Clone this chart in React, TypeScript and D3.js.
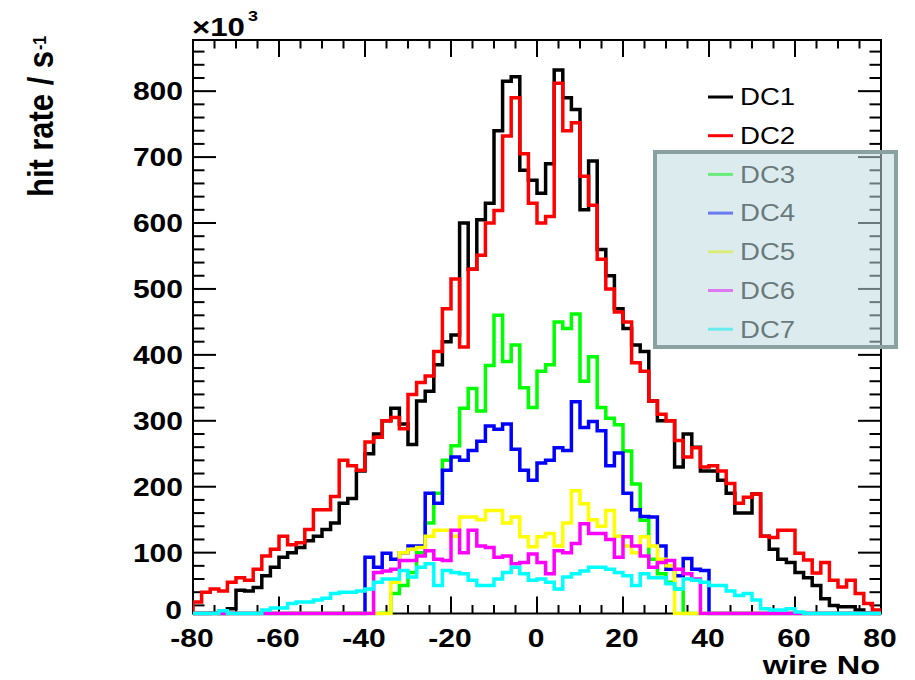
import React from 'react';
import * as d3 from 'd3';

// ---- data (hit rate in units of 10^3 /s, bins of 2 wires from -80 to 80) ----
const BIN_START = -80;
const BIN_WIDTH = 2;

const dc1 = [0,0,8,0,15,43,42,47,65,78, 93,100,108,118,125,135,145,175,182,224,
  250,280,300,319,295,264,330,345,385,420, 430,600,530,605,630,740,815,822,680,665,
  645,690,832,790,772,620,694,560,520,470, 440,415,405,330,300,300,230,280,260,224,
  224,210,190,160,160,189,125,105,90,85, 70,62,50,30,20,18,18,13,8,5];

const dc2 = [25,40,45,42,55,62,58,75,95,105, 125,112,115,135,165,165,185,240,232,225,
  268,275,300,305,288,340,358,368,405,470, 515,412,530,551,600,619,732,790,705,630,
  600,610,812,740,752,671,627,545,500,465, 450,388,375,330,310,300,270,245,259,230,
  232,224,205,175,184,189,125,123,134,134, 99,89,69,85,58,48,58,38,23,13];

const dc3 = [0,0,0,0,0,0,0,0,0,0, 0,0,0,0,0,0,0,0,0,0,
  0,0,8,38,50,70,100,145,190,240, 262,319,349,315,384,460,390,415,350,320,
  375,385,450,440,462,360,397,320,304,294, 254,204,149,90,68,55,45,0,0,0,
  0,0,0,0,0,0,0,0,0,0, 0,0,0,0,0,0,0,0,0,0];

const dc4 = [0,0,0,0,0,0,0,0,0,0, 0,0,0,0,0,0,0,0,0,0,
  93,78,99,90,100,110,110,190,175,225, 245,240,255,269,292,287,295,257,225,210,
  236,240,259,255,329,290,299,285,232,251, 190,165,155,154,110,75,65,91,75,73,
  0,0,0,0,0,0,0,0,0,0, 0,0,0,0,0,0,0,0,0,0];

const dc5 = [0,0,0,0,0,0,0,0,0,0, 0,0,0,0,0,0,0,0,0,0,
  0,0,0,55,100,105,108,125,134,134, 125,154,154,150,164,164,145,154,124,109,
  124,129,110,145,194,174,150,140,164,125, 110,100,124,110,90,80,0,0,0,0,
  0,0,0,0,0,0,0,0,0,0, 0,0,0,0,0,0,0,0,0,0];

const dc6 = [0,0,0,0,0,0,0,0,0,0, 0,0,0,0,0,0,0,0,0,0,
  0,70,72,75,88,88,95,103,90,88, 134,100,134,110,108,93,95,83,85,98,
  85,68,103,100,114,144,129,129,120,93, 124,110,95,78,85,88,75,68,60,0,
  0,0,0,0,0,0,0,0,0,0, 0,0,0,0,0,0,0,0,0,0];

const dc7 = [0,0,5,12,5,0,0,2,13,16, 16,23,25,25,28,31,38,40,40,42,
  45,55,60,60,73,63,78,83,50,73, 70,68,58,50,50,60,70,78,68,58,
  60,55,45,63,68,72,78,78,75,70, 65,50,68,62,62,53,45,60,58,55,
  50,50,42,35,38,28,15,13,13,15, 10,6,5,5,5,5,5,5,5,5];

const SERIES_NAMES = ['DC1', 'DC2', 'DC3', 'DC4', 'DC5', 'DC6', 'DC7'];
const SERIES_COLORS = ['#000000', '#ff0000', '#00ff00', '#0000ff', '#ffff00', '#ff00ff', '#00ffff'];
const SERIES_VALUES = [dc1, dc2, dc3, dc4, dc5, dc6, dc7];

const X_TICK_LABELS = [-80, -60, -40, -20, 0, 20, 40, 60, 80];
const Y_TICK_LABELS = [0, 100, 200, 300, 400, 500, 600, 700, 800];

const FONT = '"Liberation Sans", Arial, Helvetica, sans-serif';

function SText(props: {x: number; y: number; sx?: number; anchor?: string; size: number; bold?: boolean; fill?: string; children: any; rotate?: number; textLength?: number}) {
  const {x, y, sx = 1.2, anchor = 'start', size, bold, fill = '#000', children, rotate, textLength} = props;
  const tr = `translate(${x},${y}) scale(${sx},1)` + (rotate ? ` rotate(${rotate})` : '');
  return (
    <text transform={tr} textAnchor={anchor} fontFamily={FONT} fontSize={size}
      fontWeight={bold ? 'bold' : 'normal'} fill={fill}
      textLength={textLength} lengthAdjust={textLength ? 'spacingAndGlyphs' : undefined}>
      {children}
    </text>
  );
}

export default function App() {
  const W = 915, H = 680;
  const left = 193, right = 881, top = 40, bottom = 613.5;
  const Y_MIN = 7.7, Y_MAX = 877.6;

  const x = d3.scaleLinear().domain([-80, 80]).range([left, right]);
  const y = d3.scaleLinear().domain([Y_MIN, Y_MAX]).range([bottom, top]);

  const line = d3.line<[number, number]>().x(d => d[0]).y(d => d[1]);

  const histPath = (vals: number[]) => {
    const pts: [number, number][] = [];
    pts.push([x(BIN_START), bottom]);
    vals.forEach((v, i) => {
      const xl = x(BIN_START + i * BIN_WIDTH);
      const xr = x(BIN_START + (i + 1) * BIN_WIDTH);
      const yv = y(Math.max(v, Y_MIN));
      pts.push([xl, yv]);
      pts.push([xr, yv]);
    });
    pts.push([x(BIN_START + vals.length * BIN_WIDTH), bottom]);
    return line(pts) || '';
  };

  const xTicks = d3.range(-80, 80.01, 5);
  const yTicks = d3.range(20, Y_MAX, 20);

  const legendY0 = 97, legendStep = 38.7;

  return (
    <svg width={W} height={H} style={{position: 'absolute', left: 0, top: 0, background: '#fff'}}>
      <defs>
        <clipPath id="frame">
          <rect x={left} y={top} width={right - left} height={bottom - top + 2} />
        </clipPath>
      </defs>
      <rect x={0} y={0} width={W} height={H} fill="#fff" />

      {/* frame */}
      <rect x={left} y={top} width={right - left} height={bottom - top} fill="none" stroke="#000" strokeWidth={2} />

      {/* x ticks (bottom and top) */}
      {xTicks.map(t => {
        const major = Math.abs(t % 20) < 1e-6;
        const len = major ? 17 : 8.5;
        return (
          <g key={'xt' + t}>
            <line x1={x(t)} x2={x(t)} y1={bottom} y2={bottom - len} stroke="#000" strokeWidth={2} />
            <line x1={x(t)} x2={x(t)} y1={top} y2={top + len} stroke="#000" strokeWidth={2} />
          </g>
        );
      })}
      {/* y ticks (left and right) */}
      {yTicks.map(t => {
        const major = Math.abs(t % 100) < 1e-6;
        const len = major ? 23 : 11.5;
        return (
          <g key={'yt' + t}>
            <line x1={left} x2={left + len} y1={y(t)} y2={y(t)} stroke="#000" strokeWidth={2} />
            <line x1={right} x2={right - len} y1={y(t)} y2={y(t)} stroke="#000" strokeWidth={2} />
          </g>
        );
      })}

      {/* histograms */}
      <g clipPath="url(#frame)">
        {SERIES_VALUES.map((vals, k) => (
          <path key={SERIES_NAMES[k]} d={histPath(vals)} fill="none" stroke={SERIES_COLORS[k]}
            strokeWidth={3.5} strokeLinejoin="miter" strokeLinecap="square" />
        ))}
      </g>

      {/* x tick labels */}
      {X_TICK_LABELS.map(t => (
        <SText key={'xl' + t} x={x(t) - 1} y={647} anchor="middle" size={25} bold>{String(t)}</SText>
      ))}
      {/* y tick labels */}
      {Y_TICK_LABELS.map(t => (
        <SText key={'yl' + t} x={t === 0 ? 182 : 183} y={t === 0 ? 619 : y(t) + 9} anchor="end" size={25} bold>{String(t)}</SText>
      ))}

      {/* exponent */}
      <SText x={192} y={36} size={26} bold>×10</SText>
      <SText x={248} y={21} size={15} bold>3</SText>

      {/* axis titles */}
      <SText x={880} y={674} anchor="end" size={26} sx={1.25} bold>wire No</SText>
      <SText x={53} y={197} size={29} bold rotate={-90} textLength={146}>hit rate / s</SText>
      <SText x={46} y={50} size={16} bold rotate={-90}>-1</SText>

      {/* legend */}
      {SERIES_NAMES.map((name, k) => {
        const cy = legendY0 + k * legendStep;
        return (
          <g key={'lg' + name}>
            <line x1={708} x2={733} y1={cy} y2={cy} stroke={SERIES_COLORS[k]} strokeWidth={3} />
            <SText x={740} y={cy + 8.3} size={23}>{name}</SText>
          </g>
        );
      })}

      {/* translucent box over lower legend entries */}
      <rect x={655} y={152} width={241} height={195} fill="rgb(191,220,224)" fillOpacity={0.55}
        stroke="#89a1a1" strokeWidth={4} />
    </svg>
  );
}
